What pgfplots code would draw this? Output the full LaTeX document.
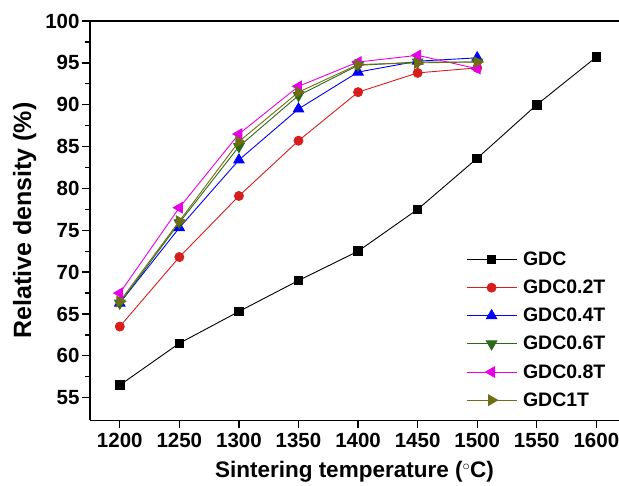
\documentclass[border=0pt]{standalone}
\usepackage{fontspec}
\setmainfont{Liberation Sans}
\usepackage{pgfplots}
\pgfplotsset{compat=1.18}

\definecolor{cgdc}{RGB}{0,0,0}
\definecolor{c02}{RGB}{215,30,30}
\definecolor{c04}{RGB}{0,0,255}
\definecolor{c06}{RGB}{45,106,20}
\definecolor{c08}{RGB}{230,0,230}
\definecolor{c1}{RGB}{110,110,20}

\begin{document}
\begin{tikzpicture}
\useasboundingbox (-90pt,-65pt) rectangle (529pt,420.3pt);
\begin{axis}[
  at={(0,0)}, anchor=south west,
  scale only axis,
  width=529pt, height=399.3pt,
  xmin=1175, xmax=1619,
  ymin=52.3, ymax=100,
  axis x line=box, axis y line=left,
  axis line style={line width=1.6pt, -},
  xtick={1200,1250,...,1600},
  ytick={55,60,...,100},
  minor y tick num=1,
  xtick pos=bottom, ytick pos=left,
  tick align=outside,
  major tick length=8pt, minor tick length=4.5pt,
  every tick/.style={line width=1.3pt, black},
  /pgf/number format/assume math mode=true,
  /pgf/number format/1000 sep={},
  tick label style={font=\fontsize{20.5}{23}\selectfont\bfseries},
  xticklabel style={yshift=-1pt},
  yticklabel style={xshift=1pt},
  xlabel={Sintering temperature ($^{\circ}$C)},
  ylabel={Relative density (\%)},
  xlabel style={font=\fontsize{22.5}{25}\selectfont\bfseries, yshift=-7pt},
  ylabel style={font=\fontsize{25}{28}\selectfont\bfseries, yshift=2pt},
  every axis plot/.append style={line width=0.9pt},
  legend style={at={(axis description cs:0.705,0.432)}, anchor=north west,
    draw=none, fill=none, font=\fontsize{19.5}{22}\selectfont\bfseries,
    row sep=9pt, column sep=4pt},
  legend cell align=left,
  legend image code/.code={
    \draw[mark repeat=2,mark phase=2] plot coordinates {(0pt,0pt) (25pt,0pt) (50pt,0pt)};
  },
]
\addplot[color=cgdc, mark=square*, mark size=4.3pt] coordinates {
  (1200,56.5) (1250,61.5) (1300,65.3) (1350,69.0) (1400,72.5)
  (1450,77.5) (1500,83.6) (1550,90.0) (1600,95.7)
};
\addlegendentry{GDC}
\addplot[color=c02, mark=*, mark size=4.5pt] coordinates {
  (1200,63.5) (1250,71.8) (1300,79.1) (1350,85.7) (1400,91.5)
  (1450,93.8) (1500,94.4)
};
\addlegendentry{GDC0.2T}
\addplot[color=c04, mark=triangle*, mark size=6pt] coordinates {
  (1200,66.3) (1250,75.3) (1300,83.4) (1350,89.5) (1400,93.9)
  (1450,95.2) (1500,95.6)
};
\addlegendentry{GDC0.4T}
\addplot[color=c06, mark=triangle*, mark size=6pt, mark options={rotate=180}] coordinates {
  (1200,66.3) (1250,75.9) (1300,85.0) (1350,91.1) (1400,94.7)
  (1450,95.1) (1500,95.1)
};
\addlegendentry{GDC0.6T}
\addplot[color=c08, mark=triangle*, mark size=6pt, mark options={rotate=90}] coordinates {
  (1200,67.5) (1250,77.7) (1300,86.5) (1350,92.2) (1400,95.1)
  (1450,95.9) (1500,94.3)
};
\addlegendentry{GDC0.8T}
\addplot[color=c1, mark=triangle*, mark size=6pt, mark options={rotate=-90}] coordinates {
  (1200,66.5) (1250,76.1) (1300,85.6) (1350,91.5) (1400,94.8)
  (1450,95.0) (1500,95.1)
};
\addlegendentry{GDC1T}
\end{axis}
\end{tikzpicture}
\end{document}
